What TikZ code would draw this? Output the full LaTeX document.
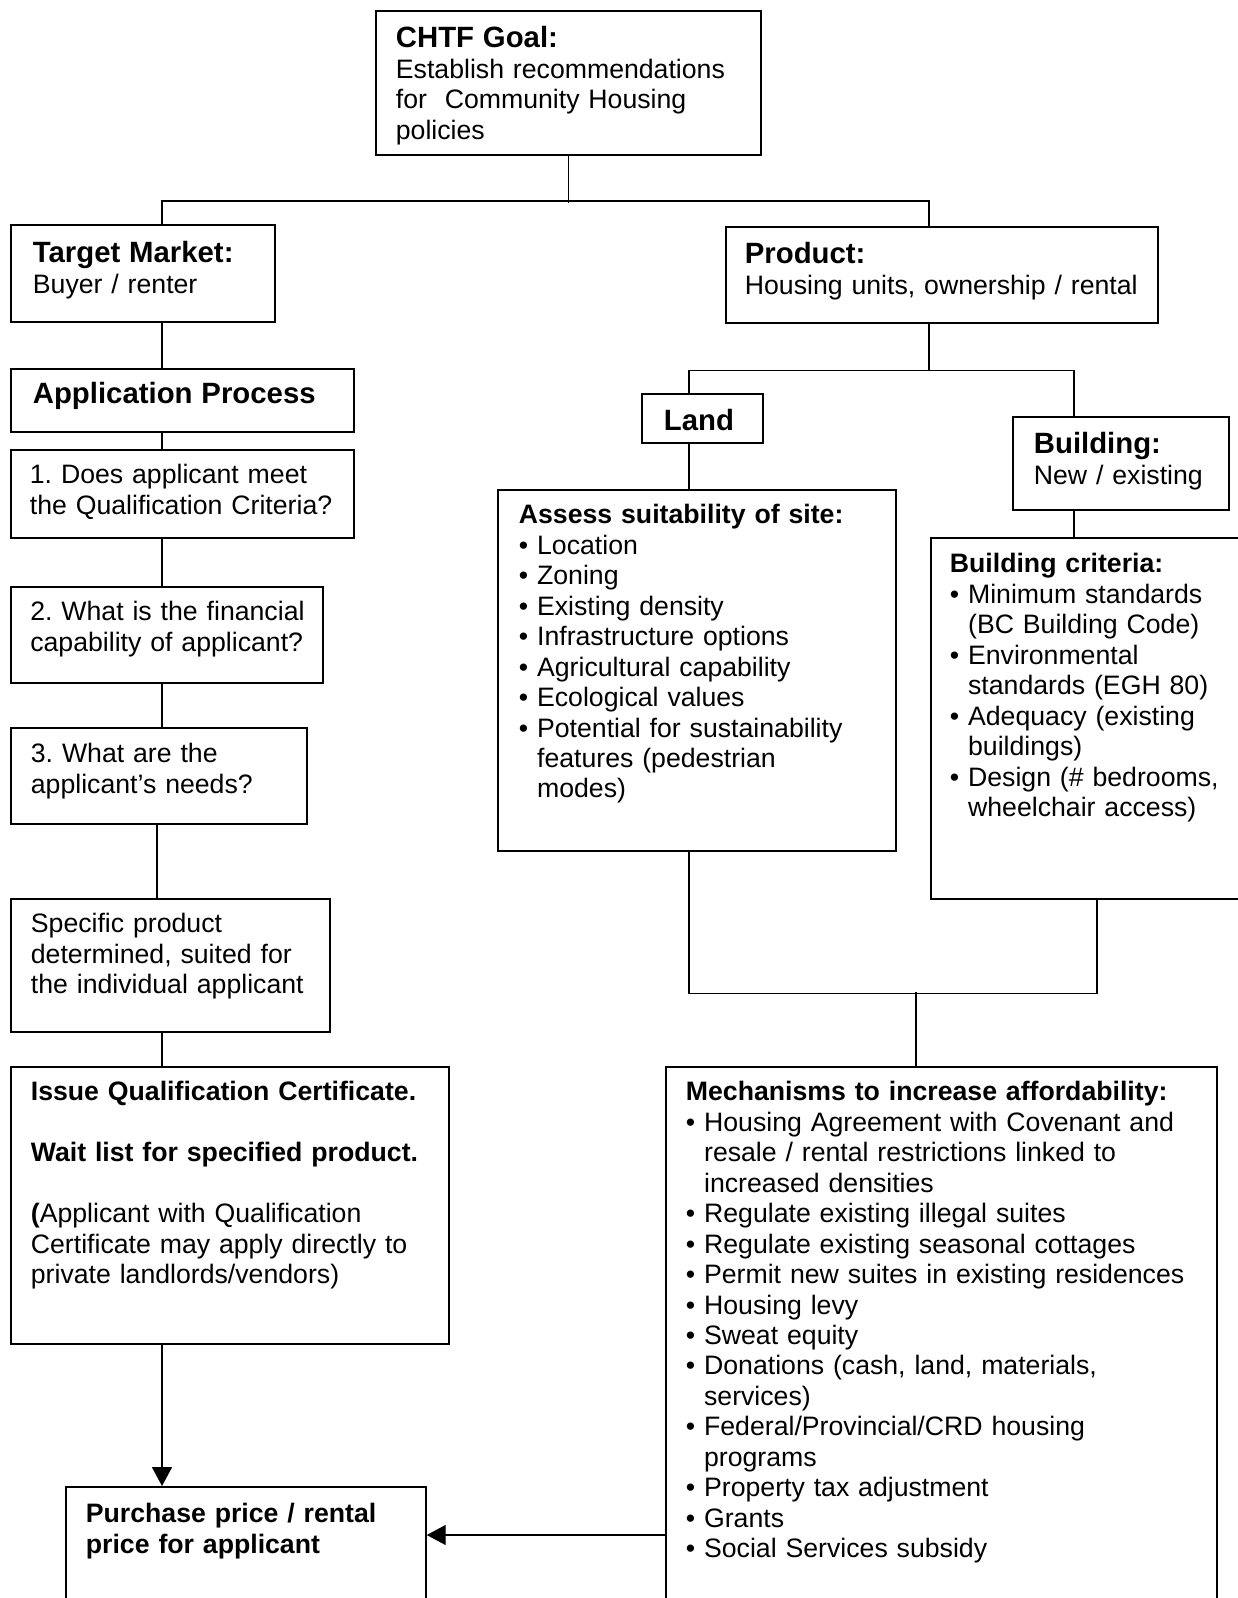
\documentclass[tikz,border=0pt]{standalone}
\usepackage{fontspec}
\setmainfont{Liberation Sans}
\usetikzlibrary{arrows.meta}
\frenchspacing
\tikzset{
    mynode/.style={font=\fontsize{12}{13.7}\selectfont},
    mybox/.style n args={4}{mynode, draw, line width=0.8pt, anchor=north west, align=left, inner ysep=0pt,
        /utils/exec={\pgfmathsetlengthmacro\bxpad{#3*0.45pt}\pgfmathsetlengthmacro\bxtw{(#1-2*#3)*0.45pt}%
            \pgfmathsetlengthmacro\bxth{#4*0.45pt}\pgfmathsetlengthmacro\bxtd{(#2-#4)*0.45pt}},
        inner xsep=\bxpad, text width=\bxtw, text height=\bxth, text depth=\bxtd},
    myline/.style={line width=0.6pt},
    myarrow/.style={-{Triangle[length=8.5pt,width=9pt]}, line width=0.6pt}
}
\newcommand{\hd}[1]{{\fontsize{13.2}{15}\selectfont\bfseries #1}}
\newcommand{\bul}{\textbullet\ }
\newcommand{\bulind}{\hphantom{\textbullet\ }}

\begin{document}
\begin{tikzpicture}[x=0.45pt,y=-0.45pt]
        \useasboundingbox (0,0) rectangle (1238,1598);

        % columns for the connectors
        \coordinate (lcol) at (162,0);
        \coordinate (lcolb) at (157,0);
        \coordinate (pcol) at (929,0);
        \coordinate (landcol) at (689,0);
        \coordinate (bldcol) at (1074,0);
        \coordinate (critcol) at (1097,0);
        \coordinate (mcol) at (916,0);
        \coordinate (arow) at (0,1535);

        % top
        \node[mybox={385}{144}{20}{37}] (goal) at (375,10) {\hd{CHTF Goal:}\\Establish recommendations\\for~ Community Housing\\policies};
        \node[mybox={264}{97}{22}{38}] (target) at (10,224) {\hd{Target Market:}\\Buyer / renter};
        \node[mybox={432}{96}{19}{37}] (product) at (725,226) {\hd{Product:}\\Housing units, ownership / rental};

        % left column
        \node[mybox={343}{63}{22}{35}] (appproc) at (10,368) {\hd{Application Process}};
        \node[mybox={343}{88}{19}{34}] (qual) at (10,449) {1. Does applicant meet\\the Qualification Criteria?};
        \node[mybox={312}{96}{15}{34}] (finance) at (10,586) {\hspace*{2pt}2. What is the financial\\\hspace*{2pt}capability of applicant?};
        \node[mybox={296}{96}{20}{35}] (needs) at (10,727) {3. What are the\\applicant’s needs?};
        \node[mybox={319}{133}{20}{34}] (specific) at (10,898) {Specific product\\determined, suited for\\the individual applicant};
        \node[mybox={438}{277}{20}{34}] (issue) at (10,1066) {\textbf{Issue Qualification Certificate.}\\[13.7pt]\textbf{Wait list for specified product.}\\[13.7pt]\textbf{(}Applicant with Qualification\\Certificate may apply directly to\\private landlords/vendors)};
        \node[mybox={360}{150}{20}{36}] (purchase) at (65,1486) {\textbf{Purchase price / rental}\\\textbf{price for applicant}};

        % right column
        \node[mybox={121}{49}{22}{37}] (land) at (641,393) {\hd{Land}};
        \node[mybox={216}{93}{21}{37}] (building) at (1012,416) {\hd{Building:}\\New / existing};
        \node[mybox={398}{361}{21}{34}] (assess) at (497,489) {\textbf{Assess suitability of site:}\\\bul Location\\\bul Zoning\\\bul Existing density\\\bul Infrastructure options\\\bul Agricultural capability\\\bul Ecological values\\\bul Potential for sustainability\\\bulind features (pedestrian\\\bulind modes)};
        \node[mybox={340}{361}{19}{35}] (bldcrit) at (930,537) {\textbf{Building criteria:}\\\bul Minimum standards\\\bulind(BC Building Code)\\\bul Environmental\\\bulind standards (EGH 80)\\\bul Adequacy (existing\\\bulind buildings)\\\bul Design (\# bedrooms,\\\bulind wheelchair access)};
        \node[mybox={551}{560}{20}{34}] (mech) at (665,1066) {\textbf{Mechanisms to increase affordability:}\\\bul Housing Agreement with Covenant and\\\bulind resale / rental restrictions linked to\\\bulind increased densities\\\bul Regulate existing illegal suites\\\bul Regulate existing seasonal cottages\\\bul Permit new suites in existing residences\\\bul Housing levy\\\bul Sweat equity\\\bul Donations (cash, land, materials,\\\bulind services)\\\bul Federal/Provincial/CRD housing\\\bulind programs\\\bul Property tax adjustment\\\bul Grants\\\bul Social Services subsidy};

        % lines
        \draw[myline] (goal.south) -- ++(0,47);
        \draw[myline] (target.north -| lcol) -- ++(0,-23) -| (product.north -| pcol);
        \draw[myline] (target.south -| lcol) -- (appproc.north -| lcol);
        \draw[myline] (appproc.south -| lcol) -- (qual.north -| lcol);
        \draw[myline] (qual.south -| lcol) -- (finance.north -| lcol);
        \draw[myline] (finance.south -| lcol) -- (needs.north -| lcol);
        \draw[myline] (needs.south -| lcolb) -- (specific.north -| lcolb);
        \draw[myline] (specific.south -| lcol) -- (issue.north -| lcol);
        \draw[myline] (product.south -| pcol) -- ++(0,47) coordinate (psplit);
        \draw[myline] (land.north -| landcol) |- (psplit) -| (building.north -| bldcol);
        \draw[myline] (land.south -| landcol) -- (assess.north -| landcol);
        \draw[myline] (building.south -| bldcol) -- (bldcrit.north -| bldcol);
        \draw[myline] (assess.south -| landcol) -- ++(0,142) -| (bldcrit.south -| critcol);
        \draw[myline] (mech.north -| mcol) -- ++(0,-74);

        % arrows
        \draw[myarrow] (issue.south -| lcol) -- (purchase.north -| lcol);
        \draw[myarrow] (mech.west |- arow) -- (purchase.east |- arow);
\end{tikzpicture}
\end{document}
